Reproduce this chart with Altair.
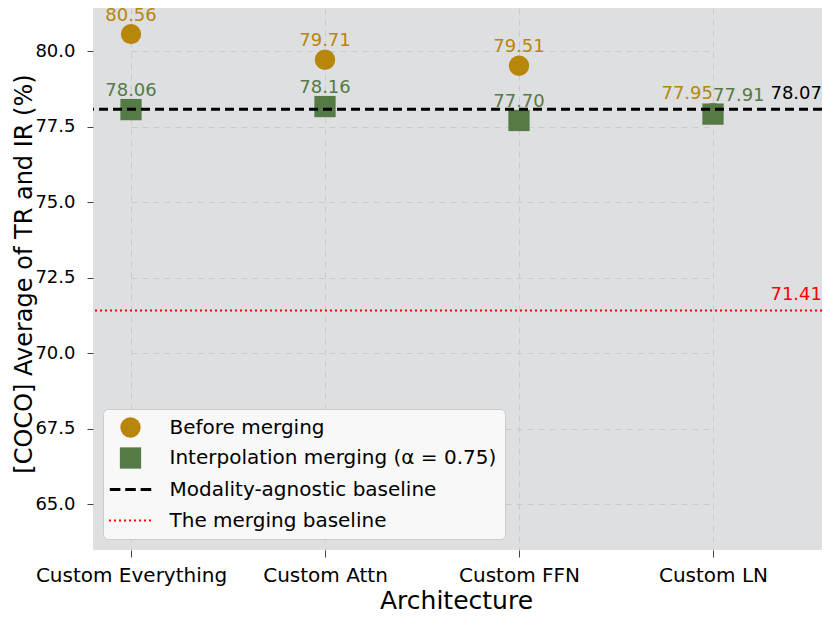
import altair as alt
import pandas as pd

# ---------------- data ----------------
categories = ["Custom Everything", "Custom Attn", "Custom FFN", "Custom LN"]
before_merging = [80.56, 79.71, 79.51, 77.95]
interp_merging = [78.06, 78.16, 77.70, 77.91]
agnostic_baseline = [78.07]
merging_baseline = [71.41]
y_ticks = [65.0, 67.5, 70.0, 72.5, 75.0, 77.5, 80.0]
series_names = [
    "Before merging",
    "Interpolation merging (α = 0.75)",
    "Modality-agnostic baseline",
    "The merging baseline",
]

GOLD = "#b8860b"
GREEN = "#557a46"
BLACK = "#000000"
RED = "#ff0000"
series_colors = [GOLD, GREEN, BLACK, RED]

pts = pd.DataFrame({
    "arch": categories * 2,
    "value": before_merging + interp_merging,
    "series": [series_names[0]] * len(categories) + [series_names[1]] * len(categories),
})
pts["label"] = pts["value"].map(lambda v: f"{v:.2f}")

lines_df = pd.DataFrame({
    "value": agnostic_baseline + merging_baseline,
    "series": series_names[2:],
})
lines_df["label"] = lines_df["value"].map(lambda v: f"{v:.2f}")

# ---------------- legend symbol paths ----------------
SYM = 529
unit = (SYM ** 0.5) / 2.0  # px per path unit


def rect(x0, x1, h):
    return f"M{x0:.3f},{-h:.3f}L{x1:.3f},{-h:.3f}L{x1:.3f},{h:.3f}L{x0:.3f},{h:.3f}Z"


half_len = 21.5 / unit
dash_len = 11 / unit
gap_len = (2 * half_len - 3 * dash_len) / 2
dash_path = ""
x0 = -half_len
for _ in range(3):
    dash_path += rect(x0, x0 + dash_len, 1.5 / unit)
    x0 += dash_len + gap_len

dot_path = ""
x0 = -half_len
while x0 + 2 / unit <= half_len + 1e-6:
    dot_path += rect(x0, x0 + 2 / unit, 1.0 / unit)
    x0 += 5 / unit

shapes = ["circle", "square", dash_path, dot_path]
sizes = [415, 529, SYM, SYM]

# ---------------- layout ----------------
W, H = 729, 542
x_scale = alt.Scale(type="point", domain=categories, range=[38, 620], padding=0)
y_scale = alt.Scale(domain=[63.477, 81.424], nice=False, zero=False)

GRID = "#c8cbcd"
x_axis = alt.Axis(
    title="Architecture", labelFontSize=20, titleFontSize=25, labelAngle=0,
    tickSize=7, labelPadding=8, domain=False, grid=True, labelLimit=400,
    gridDash=[6, 5], gridColor=GRID, gridWidth=1, tickColor="#444444",
    labelColor="black", titleColor="black", titleFontWeight="normal",
    titleBaseline="alphabetic", titleY=58, titleX=W / 2 - 1.5, titleAlign="center",
)
y_axis = alt.Axis(
    title="[COCO] Average of TR and IR (%)", values=y_ticks, format=".1f",
    labelFontSize=18, titleFontSize=24, tickSize=6, labelPadding=12,
    domain=False, grid=True, gridDash=[6, 5], gridColor=GRID,
    gridWidth=1, tickColor="#444444", labelColor="black", titleColor="black",
    titleFontWeight="normal", titleBaseline="alphabetic", titleAngle=270,
    titleX=-62, titleY=265.5, titleAlign="center",
)

legend = alt.Legend(
    title=None, orient="none", legendX=10, legendY=401,
    fillColor="#f8f8f8", strokeColor="#cccccc", cornerRadius=5, padding=8,
    symbolOffset=8, labelOffset=27.5, rowPadding=9, labelFontSize=20,
    labelColor="black", symbolStrokeWidth=0, labelLimit=500,
)

X = alt.X("arch:N", scale=x_scale, axis=x_axis, sort=categories)
Y = alt.Y("value:Q", scale=y_scale, axis=y_axis)

points = alt.Chart(pts).mark_point(filled=True, opacity=1, strokeWidth=0).encode(
    x=X,
    y=Y,
    color=alt.Color("series:N", scale=alt.Scale(domain=series_names, range=series_colors), legend=legend),
    shape=alt.Shape("series:N", scale=alt.Scale(domain=series_names, range=shapes), legend=legend),
    size=alt.Size("series:N", scale=alt.Scale(domain=series_names, range=sizes), legend=legend),
)

agn_rule = alt.Chart(lines_df).transform_filter(
    alt.datum.series == series_names[2]
).mark_rule(color=BLACK, strokeWidth=3, strokeDash=[9, 5]).encode(y=alt.Y("value:Q"))

mer_rule = alt.Chart(lines_df).transform_filter(
    alt.datum.series == series_names[3]
).mark_rule(color=RED, strokeWidth=2, strokeDash=[2, 3]).encode(y=alt.Y("value:Q"))


def rule_label(name, color):
    return alt.Chart(lines_df).transform_filter(
        alt.datum.series == name
    ).mark_text(align="right", baseline="middle", dx=0, dy=-15.5, fontSize=18, color=color).encode(
        x=alt.value(W), y=alt.Y("value:Q"), text="label:N"
    )


def point_label(name, color, ln, align):
    cond = (alt.datum.arch == categories[-1]) if ln else (alt.datum.arch != categories[-1])
    return alt.Chart(pts).transform_filter(
        alt.datum.series == name
    ).transform_filter(cond).mark_text(
        align=align, baseline="middle", dy=-18.5, fontSize=18, color=color
    ).encode(x=alt.X("arch:N"), y=alt.Y("value:Q"), text="label:N")


chart = alt.layer(
    points,
    agn_rule,
    mer_rule,
    rule_label(series_names[2], BLACK),
    rule_label(series_names[3], RED),
    point_label(series_names[0], GOLD, False, "center"),
    point_label(series_names[0], GOLD, True, "right"),
    point_label(series_names[1], GREEN, False, "center"),
    point_label(series_names[1], GREEN, True, "left"),
).properties(
    width=W, height=H,
    padding={"left": 85, "top": 0, "right": 0, "bottom": 67},
    autosize=alt.AutoSizeParams(type="none"),
).configure(font="DejaVu Sans").configure_view(fill="#dddfe0", stroke=None)

chart.save("out.html", embed_options={"renderer": "svg", "actions": False})
